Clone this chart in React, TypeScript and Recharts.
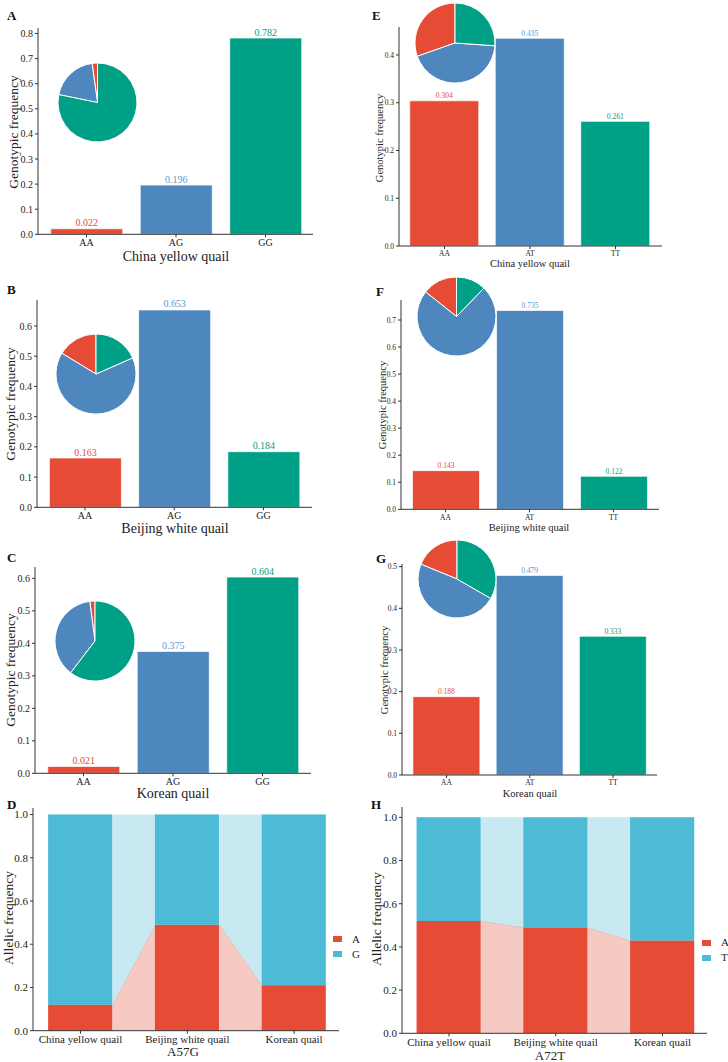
import React from "react";
import {
  BarChart,
  Bar,
  AreaChart,
  Area,
  PieChart,
  Pie,
  Cell,
  XAxis,
  YAxis,
  LabelList,
} from "recharts";

const FONT = "'Liberation Serif', 'Times New Roman', serif";

// categories
const genotypesAG = ["AA", "AG", "GG"];
const genotypesAT = ["AA", "AT", "TT"];
const populations = ["China yellow quail", "Beijing white quail", "Korean quail"];

// genotypic frequencies, A57G
const chinaA57G = [0.022, 0.196, 0.782];
const beijingA57G = [0.163, 0.653, 0.184];
const koreanA57G = [0.021, 0.375, 0.604];

// genotypic frequencies, A72T
const chinaA72T = [0.304, 0.435, 0.261];
const beijingA72T = [0.143, 0.735, 0.122];
const koreanA72T = [0.188, 0.479, 0.333];

// allelic frequencies per population
const a57gA = [0.12, 0.49, 0.21];
const a57gG = [0.88, 0.51, 0.79];
const a72tA = [0.52, 0.49, 0.43];
const a72tT = [0.48, 0.51, 0.57];

// tick values
const ticksA = [0, 0.1, 0.2, 0.3, 0.4, 0.5, 0.6, 0.7, 0.8];
const ticksB = [0, 0.1, 0.2, 0.3, 0.4, 0.5, 0.6];
const ticksC = [0, 0.1, 0.2, 0.3, 0.4, 0.5, 0.6];
const ticksE = [0, 0.1, 0.2, 0.3, 0.4];
const ticksF = [0, 0.1, 0.2, 0.3, 0.4, 0.5, 0.6, 0.7];
const ticksG = [0, 0.1, 0.2, 0.3, 0.4, 0.5];
const alleleTicks = [0, 0.2, 0.4, 0.6, 0.8, 1.0];
const popTicks = [1, 2, 3];

const RED = "#E64B35";
const STEEL = "#4E86BE";
const GREEN = "#00A087";
const CYAN = "#4DBBD5";
const PINK = "#F6C9C3";
const PALE = "#C9E9F2";
const barColors = [RED, STEEL, GREEN];
const labelColors = [RED, "#5B97D3", GREEN];
const INK = "#222";
const AXIS = "#333";

// half width of an allele bar, in x units
const HALF = 0.3;

type Plot = [number, number, number, number];

function GenoPanel({
  x,
  plot,
  ymax,
  ticks,
  cats,
  values,
  pad,
  barSize,
  tickFont,
  labelFont,
  pie,
}: {
  x: number;
  plot: Plot;
  ymax: number;
  ticks: number[];
  cats: string[];
  values: number[];
  pad: [number, number];
  barSize: number;
  tickFont: number;
  labelFont: number;
  pie: { cx: number; cy: number; r: number };
}) {
  const [l, t, r, b] = plot;
  const top = t - 12;
  const w = r - x + 6;
  const h = b + 22 - top;
  const data = cats.map((c, i) => ({ name: c, value: values[i] }));

  const renderLabel = (props: any) => {
    const { x: bx, y: by, width, value } = props;
    const i = typeof props.index === "number" ? props.index : values.indexOf(Number(value));
    return (
      <text
        x={Number(bx) + Number(width) / 2}
        y={Number(by) - 2.5}
        textAnchor="middle"
        fontSize={labelFont}
        fill={labelColors[i] ?? INK}
      >
        {Number(value).toFixed(3)}
      </text>
    );
  };

  const size = pie.r * 2 + 4;

  return (
    <>
      <div style={{ position: "absolute", left: x, top }}>
        <BarChart
          width={w}
          height={h}
          data={data}
          margin={{ top: t - top, right: x + w - r, bottom: 0, left: 0 }}
        >
          <XAxis
            dataKey="name"
            height={22}
            padding={{ left: pad[0], right: pad[1] }}
            interval={0}
            tickSize={3}
            tick={{ fontSize: tickFont, fill: INK }}
            axisLine={{ stroke: AXIS }}
            tickLine={{ stroke: AXIS }}
          />
          <YAxis
            type="number"
            domain={[0, ymax]}
            ticks={ticks}
            allowDataOverflow
            width={l - x}
            tickSize={3}
            tickFormatter={(v: number) => v.toFixed(1)}
            tick={{ fontSize: tickFont, fill: INK }}
            axisLine={{ stroke: AXIS }}
            tickLine={{ stroke: AXIS }}
          />
          <Bar
            dataKey="value"
            barSize={barSize}
            stroke="#ffffff"
            strokeOpacity={0.7}
            strokeWidth={1}
            isAnimationActive={false}
          >
            {data.map((_, i) => (
              <Cell key={`bar-${i}`} fill={barColors[i]} />
            ))}
            <LabelList dataKey="value" content={renderLabel} />
          </Bar>
        </BarChart>
      </div>
      <div style={{ position: "absolute", left: pie.cx - size / 2, top: pie.cy - size / 2 }}>
        <PieChart width={size} height={size} margin={{ top: 0, right: 0, bottom: 0, left: 0 }}>
          <Pie
            data={data}
            dataKey="value"
            cx="50%"
            cy="50%"
            innerRadius={0}
            outerRadius={pie.r}
            startAngle={90}
            endAngle={450}
            stroke="#ffffff"
            strokeWidth={1}
            isAnimationActive={false}
          >
            {data.map((_, i) => (
              <Cell key={`slice-${i}`} fill={barColors[i]} />
            ))}
          </Pie>
        </PieChart>
      </div>
    </>
  );
}

function AllelePanel({
  x,
  plot,
  domain,
  ymax,
  lower,
  upper,
  names,
  legendAt,
}: {
  x: number;
  plot: Plot;
  domain: [number, number];
  ymax: number;
  lower: number[];
  upper: number[];
  names: [string, string];
  legendAt: { left: number; top: number };
}) {
  const [l, t, r, b] = plot;
  const top = t - 8;
  const w = r - x + 2;
  const h = b + 16 - top;

  const barData = populations.map((_, i) => ({ pos: i + 1, lower: lower[i], upper: upper[i] }));
  // flow polygons run from the right edge of one bar to the left edge of the next
  const flowData = populations.flatMap((_, i) => [
    { pos: i + 1 - HALF, lower: lower[i], upper: upper[i] },
    { pos: i + 1 + HALF, lower: lower[i], upper: upper[i] },
  ]);

  return (
    <>
      <div style={{ position: "absolute", left: x, top }}>
        <AreaChart
          width={w}
          height={h}
          data={flowData}
          margin={{ top: t - top, right: x + w - r, bottom: top + h - b, left: l - x }}
        >
          <XAxis type="number" dataKey="pos" domain={domain} allowDataOverflow hide />
          <YAxis type="number" domain={[0, ymax]} allowDataOverflow hide />
          <Area
            type="linear"
            dataKey="lower"
            stackId="flow"
            fill={PINK}
            fillOpacity={1}
            stroke="#cf9d96"
            strokeWidth={0.7}
            isAnimationActive={false}
          />
          <Area
            type="linear"
            dataKey="upper"
            stackId="flow"
            fill={PALE}
            fillOpacity={1}
            stroke="none"
            isAnimationActive={false}
          />
        </AreaChart>
      </div>
      <div style={{ position: "absolute", left: x, top }}>
        <BarChart
          width={w}
          height={h}
          data={barData}
          margin={{ top: t - top, right: x + w - r, bottom: 0, left: 0 }}
        >
          <XAxis
            type="number"
            dataKey="pos"
            domain={domain}
            ticks={popTicks}
            allowDataOverflow
            interval={0}
            height={16}
            tickSize={3}
            tickFormatter={(v: number) => populations[v - 1]}
            tick={{ fontSize: 11, fill: INK }}
            axisLine={{ stroke: AXIS }}
            tickLine={{ stroke: AXIS }}
          />
          <YAxis
            type="number"
            domain={[0, ymax]}
            ticks={alleleTicks}
            allowDataOverflow
            width={l - x}
            tickSize={3}
            tickFormatter={(v: number) => v.toFixed(1)}
            tick={{ fontSize: 11, fill: INK }}
            axisLine={{ stroke: AXIS }}
            tickLine={{ stroke: AXIS }}
          />
          <Bar dataKey="lower" stackId="s" fill={RED} barSize={64} isAnimationActive={false} />
          <Bar dataKey="upper" stackId="s" fill={CYAN} barSize={64} isAnimationActive={false} />
        </BarChart>
      </div>
      <div
        style={{
          position: "absolute",
          left: legendAt.left,
          top: legendAt.top,
          fontSize: 11,
          lineHeight: "15px",
          color: INK,
          whiteSpace: "nowrap",
        }}
      >
        {names.map((n, i) => (
          <div key={n} style={{ display: "flex", alignItems: "center" }}>
            <span
              style={{
                display: "inline-block",
                width: 9,
                height: 6,
                background: i === 0 ? RED : CYAN,
                marginRight: 10,
              }}
            />
            {n}
          </div>
        ))}
      </div>
    </>
  );
}

const letters = [
  { t: "A", x: 7, y: 20 },
  { t: "B", x: 7, y: 294 },
  { t: "C", x: 7, y: 562 },
  { t: "D", x: 7, y: 809 },
  { t: "E", x: 372, y: 20 },
  { t: "F", x: 376, y: 296 },
  { t: "G", x: 376, y: 563 },
  { t: "H", x: 371, y: 809 },
];

const xTitles = [
  { t: populations[0], x: 176, y: 256, s: 14 },
  { t: populations[1], x: 175, y: 528, s: 14 },
  { t: populations[2], x: 173, y: 793, s: 14 },
  { t: populations[0], x: 530, y: 263.5, s: 10.5 },
  { t: populations[1], x: 529, y: 527.5, s: 10.5 },
  { t: populations[2], x: 530, y: 793, s: 10.5 },
  { t: "A57G", x: 183, y: 1051, s: 13 },
  { t: "A72T", x: 550, y: 1055, s: 13 },
];

const yTitles = [
  { t: "Genotypic frequency", x: 13, y: 132, s: 13.5 },
  { t: "Genotypic frequency", x: 10, y: 404, s: 13.5 },
  { t: "Genotypic frequency", x: 10, y: 670, s: 13.5 },
  { t: "Genotypic frequency", x: 379, y: 138, s: 10.5 },
  { t: "Genotypic frequency", x: 382, y: 405, s: 10.5 },
  { t: "Genotypic frequency", x: 384, y: 670, s: 10.5 },
  { t: "Allelic frequency", x: 8, y: 918, s: 13.5 },
  { t: "Allelic frequency", x: 376, y: 919, s: 13.5 },
];

export default function App() {
  return (
    <div
      style={{
        position: "absolute",
        left: 0,
        top: 0,
        width: 728,
        height: 1062,
        background: "#ffffff",
        fontFamily: FONT,
        overflow: "hidden",
      }}
    >
      <GenoPanel x={0} plot={[38, 28, 313, 234.3]} ymax={0.822} ticks={ticksA} cats={genotypesAG}
        values={chinaA57G} pad={[3.75, 2.75]} barSize={72} tickFont={10} labelFont={10}
        pie={{ cx: 97, cy: 102, r: 39.5 }} />
      <GenoPanel x={0} plot={[37, 300, 312, 507.3]} ymax={0.686} ticks={ticksB} cats={genotypesAG}
        values={beijingA57G} pad={[3.4, 3.9]} barSize={72} tickFont={10} labelFont={10}
        pie={{ cx: 96, cy: 374, r: 40 }} />
      <GenoPanel x={0} plot={[35, 567, 311, 773.3]} ymax={0.635} ticks={ticksC} cats={genotypesAG}
        values={koreanA57G} pad={[3.75, 3.75]} barSize={72} tickFont={10} labelFont={10}
        pie={{ cx: 95, cy: 641, r: 40 }} />
      <GenoPanel x={364} plot={[399, 27, 662, 246]} ymax={0.4586} ticks={ticksE} cats={genotypesAT}
        values={chinaA72T} pad={[2.75, 3.75]} barSize={69} tickFont={7.5} labelFont={7.5}
        pie={{ cx: 455, cy: 43, r: 40 }} />
      <GenoPanel x={364} plot={[401, 300, 659, 509.3]} ymax={0.774} ticks={ticksF} cats={genotypesAT}
        values={beijingA72T} pad={[2.5, 3.5]} barSize={67} tickFont={7.5} labelFont={7.5}
        pie={{ cx: 456, cy: 316, r: 39.5 }} />
      <GenoPanel x={364} plot={[402, 564, 657, 775]} ymax={0.5064} ticks={ticksG} cats={genotypesAT}
        values={koreanA72T} pad={[2.9, 2.4]} barSize={67} tickFont={7.5} labelFont={7.5}
        pie={{ cx: 457, cy: 579, r: 39 }} />

      <AllelePanel x={0} plot={[33, 808, 339, 1030.7]} domain={[0.555, 3.42]} ymax={1.03}
        lower={a57gA} upper={a57gG} names={["A", "G"]} legendAt={{ left: 333, top: 931.5 }} />
      <AllelePanel x={364} plot={[402, 807, 707, 1033.3]} domain={[0.56, 3.417]} ymax={1.048}
        lower={a72tA} upper={a72tT} names={["A", "T"]} legendAt={{ left: 702, top: 935 }} />

      <svg
        width={728}
        height={1062}
        style={{ position: "absolute", left: 0, top: 0, pointerEvents: "none" }}
      >
        {letters.map((d) => (
          <text key={d.t} x={d.x} y={d.y} fontSize={13} fontWeight="bold" fill="#111">
            {d.t}
          </text>
        ))}
        {xTitles.map((d, i) => (
          <text key={`xt-${i}`} x={d.x} y={d.y} fontSize={d.s} textAnchor="middle"
            dominantBaseline="central" fill={INK}>
            {d.t}
          </text>
        ))}
        {yTitles.map((d, i) => (
          <text key={`yt-${i}`} x={d.x} y={d.y} fontSize={d.s} textAnchor="middle"
            dominantBaseline="central" fill={INK} transform={`rotate(-90 ${d.x} ${d.y})`}>
            {d.t}
          </text>
        ))}
      </svg>
    </div>
  );
}
